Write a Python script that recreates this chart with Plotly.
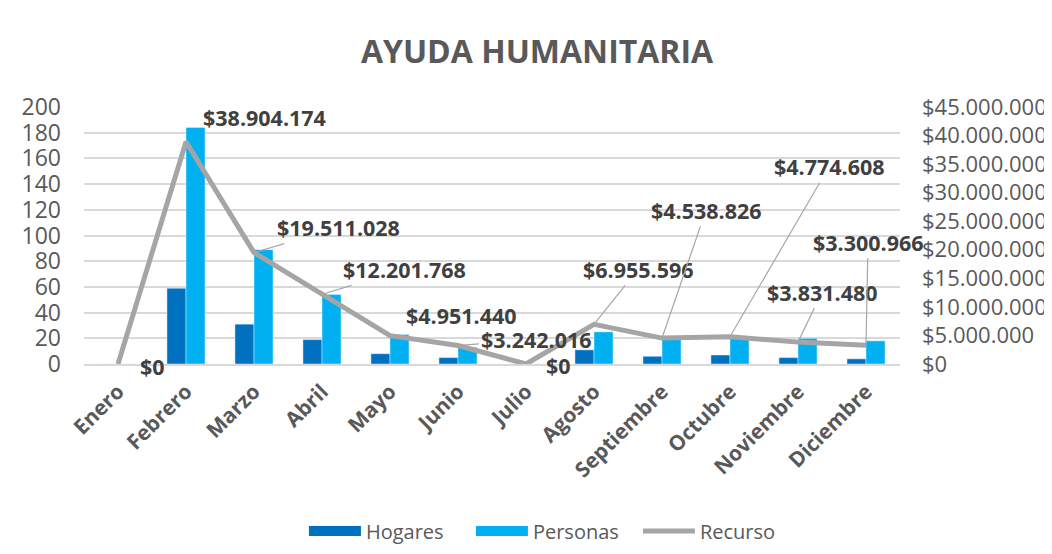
import plotly.graph_objs as go

meses = ['Enero', 'Febrero', 'Marzo', 'Abril', 'Mayo', 'Junio', 'Julio',
         'Agosto', 'Septiembre', 'Octubre', 'Noviembre', 'Diciembre']
hogares = [0, 59, 31, 19, 8, 5, 0, 11, 6, 7, 5, 4]
personas = [0, 184, 89, 54, 23, 13, 0, 25, 20, 20, 20, 18]
recurso = [0, 38904174, 19511028, 12201768, 4951440, 3242016, 0,
           6955596, 4538826, 4774608, 3831480, 3300966]

# label offsets (pixels) and whether Excel drew a leader line
label_dx = [34, 78, 84, 82, 71, 78, 32, 44, 44, 99, 24, 2]
label_dy = [2, -24, -25, -25, -20, -6, 1, -55, -128, -170, -50, -103]
leader = [False, False, True, True, False, True, False, True, True, True, True, True]

FONT = 'Open Sans'
GRIS = '#595959'
AZUL = '#0070c0'
CELESTE = '#00b0f0'


def pesos(v):
    return '$' + f'{v:,}'.replace(',', '.')


traces = [
    go.Bar(
        name='Hogares',
        x=meses,
        y=hogares,
        marker=dict(color=AZUL),
        showlegend=False,
        ),
    go.Bar(
        name='Personas',
        x=meses,
        y=personas,
        marker=dict(color=CELESTE),
        showlegend=False,
        ),
    go.Scatter(
        name='Recurso',
        x=meses,
        y=recurso,
        yaxis='y2',
        mode='lines',
        line=dict(color='#a5a5a5', width=5),
        showlegend=False,
        ),
    ]

# legend entries drawn as wide swatches like the Excel legend
for name, color, width in [('Hogares', AZUL, 14), ('Personas', CELESTE, 14),
                           ('Recurso', '#a5a5a5', 5)]:
    traces.append(go.Scatter(
        name=name,
        x=[None],
        y=[None],
        mode='lines',
        line=dict(color=color, width=width),
        ))

annotations = []
for mes, v, dx, dy, ld in zip(meses, recurso, label_dx, label_dy, leader):
    annotations.append(dict(
        x=mes,
        y=v,
        xref='x',
        yref='y2',
        text=pesos(v),
        showarrow=True,
        ax=dx,
        ay=dy,
        arrowhead=0,
        arrowwidth=1.2,
        arrowcolor='#a6a6a6' if ld else 'rgba(0,0,0,0)',
        standoff=2,
        font=dict(family=FONT, size=21.5, color='#404040', weight='bold'),
        ))

# the page adds an 8px body margin: figure is 8px smaller and margins shifted
W, H = 1044, 538
layout = go.Layout(
    width=W,
    height=H,
    paper_bgcolor='white',
    plot_bgcolor='white',
    separators=',.',
    margin=dict(l=76, r=152, t=99, b=182),
    barmode='group',
    bargap=0.44,
    bargroupgap=0,
    title=dict(
        text='<b>AYUDA HUMANITARIA</b>',
        x=529 / W,
        xanchor='center',
        y=1 - 44 / H,
        yanchor='middle',
        font=dict(family=FONT, size=32, color=GRIS),
        ),
    xaxis=dict(
        range=[-0.5, len(meses) - 0.5],
        tickangle=-45,
        tickfont=dict(family=FONT, size=21, color=GRIS, weight='bold'),
        showline=True,
        linecolor='#d9d9d9',
        linewidth=2,
        ticklabelstandoff=5,
        automargin=False,
        ),
    yaxis=dict(
        range=[0, 200],
        dtick=20,
        gridcolor='#d9d9d9',
        gridwidth=2,
        zeroline=False,
        tickfont=dict(family=FONT, size=23, color=GRIS),
        ticklabelstandoff=22,
        automargin=False,
        ),
    yaxis2=dict(
        overlaying='y',
        side='right',
        range=[0, 45000000],
        dtick=5000000,
        tickprefix='$',
        tickformat=',d',
        showgrid=False,
        zeroline=False,
        tickfont=dict(family=FONT, size=22, color=GRIS),
        ticklabelstandoff=21,
        automargin=False,
        ),
    legend=dict(
        orientation='h',
        x=0.5765,
        xanchor='center',
        yref='container',
        y=1 - 523 / H,
        yanchor='middle',
        font=dict(family=FONT, size=20, color=GRIS),
        itemwidth=52,
        entrywidth=100,
        ),
    annotations=annotations,
    shapes=[dict(
        type='rect',
        xref='paper',
        yref='paper',
        x0=-77 / 816,
        x1=1.3,
        y0=-1,
        y1=1 + 100 / 257,
        line=dict(color='#d9d9d9', width=1.5),
        layer='below',
        )],
    )

fig = go.Figure(data=traces, layout=layout)
fig.write_html('out.html')
